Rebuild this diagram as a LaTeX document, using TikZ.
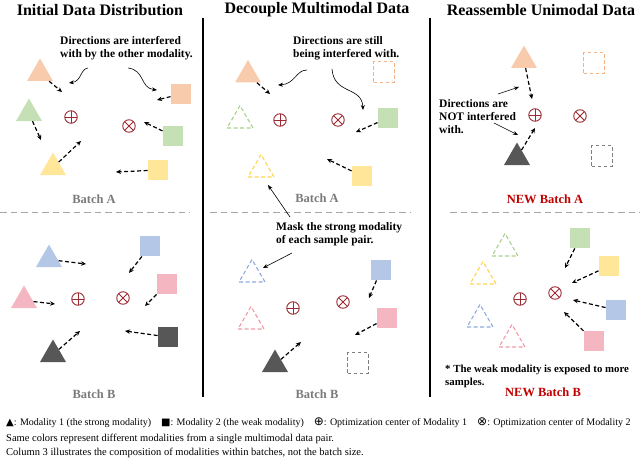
\documentclass[tikz,border=0pt]{standalone}
\usepackage{fontspec}
\setmainfont{Liberation Serif}
\newfontfamily\symfont{DejaVu Sans}
\usepackage{xcolor}
\usepackage{tikz}
\usetikzlibrary{shapes.geometric, arrows.meta}

\definecolor{corange}{HTML}{F8CBAD}
\definecolor{cgreen}{HTML}{C5E0B4}
\definecolor{cyellow}{HTML}{FFE699}
\definecolor{cblue}{HTML}{B4C7E7}
\definecolor{cpink}{HTML}{F4B6C0}
\definecolor{dorange}{HTML}{F4B183}
\definecolor{dgreen}{HTML}{A9D18E}
\definecolor{dyellow}{HTML}{FFD54F}
\definecolor{dblue}{HTML}{8FAADC}
\definecolor{dpink}{HTML}{EE9AA4}
\definecolor{dgray}{HTML}{7F7F7F}
\definecolor{cdark}{HTML}{575757}
\definecolor{cred}{HTML}{9C2A32}
\definecolor{cnew}{HTML}{C00000}
\definecolor{cbatch}{HTML}{7A7A7A}
\definecolor{cline}{HTML}{A6A6A6}

\begin{document}
\begin{tikzpicture}[x=1pt, y=-1pt,
    tri/.style={regular polygon, regular polygon sides=3, minimum size=30pt, inner sep=0pt},
    dtri/.style={tri, draw=#1, line width=1.1pt, dash pattern=on 4pt off 2.5pt},
    sq/.style={rectangle, minimum size=20.5pt, inner sep=0pt},
    dsq/.style={sq, draw=#1, line width=1.1pt, dash pattern=on 3.5pt off 2.5pt},
    ctr/.style={circle, draw=cred, line width=0.9pt, minimum size=12.5pt, inner sep=0pt},
    opl/.style={ctr, path picture={\draw[cred, line width=0.9pt]
        (path picture bounding box.center) ++(0,6.25pt) -- ++(0,-12.5pt)
        (path picture bounding box.center) ++(-6.25pt,0) -- ++(12.5pt,0);}},
    otm/.style={ctr, path picture={\draw[cred, line width=0.9pt]
        (path picture bounding box.center) ++(45:6.25pt) -- ++(225:12.5pt)
        (path picture bounding box.center) ++(135:6.25pt) -- ++(-45:12.5pt);}},
    dar/.style={-{Stealth[length=5pt, width=4.5pt]}, line width=1.2pt, dash pattern=on 4pt off 2.5pt},
    ann/.style={-{Stealth[length=5pt, width=4pt]}, line width=0.6pt},
    title/.style={font=\bfseries\fontsize{16}{18}\selectfont},
    note/.style={font=\bfseries\fontsize{11.5}{13}\selectfont, align=left, anchor=west, inner sep=0pt},
    batch/.style={font=\bfseries\fontsize{12.5}{14}\selectfont, text=cbatch},
    newbatch/.style={batch, text=cnew},
    legend/.style={anchor=west, inner sep=0pt, font=\fontsize{10.5}{12}\selectfont},
    sep/.style={cline, line width=1pt, dash pattern=on 6.5pt off 4pt}]
    \useasboundingbox (0,0) rectangle (640,460);

    % titles and frame
    \node[title] (h1) at (100,10) {Initial Data Distribution};
    \node[title] (h2) at (317,10) {Decouple Multimodal Data};
    \node[title] (h3) at (541,10) {Reassemble Unimodal Data};
    \draw[line width=1.5pt] (203,18) -- (203,397);
    \draw[line width=1.5pt] (430,18) -- (430,397);
    \draw[sep] (0,212) -- (190,212);
    \draw[sep] (210,212) -- (411,212);
    \draw[sep] (450,212) -- (640,212);

    % column 1, batch A
    \node[tri, fill=corange] (t1a) at (40,73.5) {};
    \node[tri, fill=cgreen] (t1b) at (29,113.5) {};
    \node[tri, fill=cyellow] (t1c) at (53,167.5) {};
    \node[sq, fill=corange] (s1a) at (181,94) {};
    \node[sq, fill=cgreen] (s1b) at (173,136) {};
    \node[sq, fill=cyellow] (s1c) at (158,170) {};
    \node[opl] (p1) at (71,117) {};
    \node[otm] (q1) at (129,126) {};
    \coordinate (e1a) at (62,92); \coordinate (e1b) at (41,140); \coordinate (e1c) at (81,141);
    \coordinate (f1a) at (157,100); \coordinate (f1b) at (144,122); \coordinate (f1c) at (116,172);
    \draw[dar] (t1a) -- (e1a);
    \draw[dar] (t1b) -- (e1b);
    \draw[dar] (t1c) -- (e1c);
    \draw[dar] (s1a) -- (f1a);
    \draw[dar] (s1b) -- (f1b);
    \draw[dar] (s1c) -- (f1c);
    \node[note] (n1) at (60,48.5) {Directions are interfered\\with by the other modality.};
    \coordinate (u1) at (88,68); \coordinate (v1) at (128,68);
    \draw[ann] (u1) .. controls (80,69) and (82,81) .. (69,83);
    \draw[ann] (v1) .. controls (145,70) and (140,88) .. (157,90);
    \node[batch] (b1a) at (94,199) {Batch A};

    % column 1, batch B
    \node[tri, fill=cblue] (t1d) at (49,259.5) {};
    \node[tri, fill=cpink] (t1e) at (24,300.5) {};
    \node[tri, fill=cdark] (t1f) at (53,354.5) {};
    \node[sq, fill=cblue] (s1d) at (150,246) {};
    \node[sq, fill=cpink] (s1e) at (167,284) {};
    \node[sq, fill=cdark] (s1f) at (168,337) {};
    \node[opl] (p2) at (78,299) {};
    \node[otm] (q2) at (123,298) {};
    \coordinate (e1d) at (86,264); \coordinate (e1e) at (55,304); \coordinate (e1f) at (80,331);
    \coordinate (f1d) at (129,273); \coordinate (f1e) at (145,306); \coordinate (f1f) at (125,331);
    \draw[dar] (t1d) -- (e1d);
    \draw[dar] (t1e) -- (e1e);
    \draw[dar] (t1f) -- (e1f);
    \draw[dar] (s1d) -- (f1d);
    \draw[dar] (s1e) -- (f1e);
    \draw[dar] (s1f) -- (f1f);
    \node[batch] (b1b) at (94,394) {Batch B};

    % column 2, batch A
    \node[tri, fill=corange] (t2a) at (248,75) {};
    \node[dtri=dgreen] (t2b) at (240,120.5) {};
    \node[dtri=dyellow] (t2c) at (261,169.5) {};
    \node[dsq=dorange] (s2a) at (384,72) {};
    \node[sq, fill=cgreen] (s2b) at (388,118) {};
    \node[sq, fill=cyellow] (s2c) at (362,176) {};
    \node[opl] (p3) at (280,120) {};
    \node[otm] (q3) at (338,120) {};
    \coordinate (e2a) at (270,94); \coordinate (f2b) at (356,132); \coordinate (f2c) at (327,159);
    \draw[dar] (t2a) -- (e2a);
    \draw[dar] (s2b) -- (f2b);
    \draw[dar] (s2c) -- (f2c);
    \node[note] (n2) at (293,48.5) {Directions are still\\being interfered with.};
    \coordinate (u2) at (307,70); \coordinate (v2) at (332,69);
    \draw[ann] (u2) .. controls (296,70) and (295,84) .. (278,85);
    \draw[ann] (v2) .. controls (334,95) and (362,86) .. (363,110);
    \node[batch] (b2a) at (317,198) {Batch A};

    % column 2, batch B
    \node[dtri=dblue] (t2d) at (252,274.5) {};
    \node[dtri=dpink] (t2e) at (251,321.5) {};
    \node[tri, fill=cdark] (t2f) at (275,364.5) {};
    \node[sq, fill=cblue] (s2d) at (381,270) {};
    \node[sq, fill=cpink] (s2e) at (387,318) {};
    \node[dsq=dgray] (s2f) at (358,363) {};
    \node[opl] (p4) at (293,308) {};
    \node[otm] (q4) at (343,302) {};
    \coordinate (e2f) at (301,342); \coordinate (f2d) at (369,298); \coordinate (f2e) at (355,335);
    \draw[dar] (t2f) -- (e2f);
    \draw[dar] (s2d) -- (f2d);
    \draw[dar] (s2e) -- (f2e);
    \node[note] (n3) at (276,234) {Mask the strong modality\\of each sample pair.};
    \coordinate (u3) at (290,217); \coordinate (v3) at (292,253);
    \draw[ann] (u3) -- (268,185);
    \draw[ann] (v3) -- (263,268);
    \node[batch] (b2b) at (317,394) {Batch B};

    % column 3, new batch A
    \node[tri, fill=corange] (t3a) at (524,60.5) {};
    \node[tri, fill=cdark] (t3b) at (517,157.5) {};
    \node[dsq=dorange] (s3a) at (594,63) {};
    \node[dsq=dgray] (s3b) at (602,156) {};
    \node[opl] (p5) at (535,115) {};
    \node[otm] (q5) at (580,116) {};
    \coordinate (e3a) at (532,99); \coordinate (e3b) at (535,128);
    \draw[dar] (t3a) -- (e3a);
    \draw[dar] (t3b) -- (e3b);
    \node[note] (n4) at (439,117) {Directions are\\NOT interfered\\with.};
    \coordinate (u4) at (498,94); \coordinate (v4) at (494,123);
    \draw[ann] (u4) -- (519,87);
    \draw[ann] (v4) -- (518,135);
    \node[newbatch] (b3a) at (545,199) {NEW Batch A};

    % column 3, new batch B
    \node[dtri=dgreen] (t3c) at (505,248.5) {};
    \node[dtri=dyellow] (t3d) at (483,276.5) {};
    \node[dtri=dblue] (t3e) at (480,319.5) {};
    \node[dtri=dpink] (t3f) at (512,339.5) {};
    \node[sq, fill=cgreen] (s3c) at (580,238) {};
    \node[sq, fill=cyellow] (s3d) at (609,266) {};
    \node[sq, fill=cblue] (s3e) at (616,310) {};
    \node[sq, fill=cpink] (s3f) at (594,341) {};
    \node[opl] (p6) at (520,299) {};
    \node[otm] (q6) at (555,293) {};
    \coordinate (f3c) at (565,268); \coordinate (f3d) at (572,283);
    \coordinate (f3e) at (573,300); \coordinate (f3f) at (564,312);
    \draw[dar] (s3c) -- (f3c);
    \draw[dar] (s3d) -- (f3d);
    \draw[dar] (s3e) -- (f3e);
    \draw[dar] (s3f) -- (f3f);
    \node[note, font=\bfseries\fontsize{10.8}{13}\selectfont] (n5) at (445,376) {* The weak modality is exposed to more\\samples.};
    \node[newbatch] (b3b) at (543,392) {NEW Batch B};

    % legend
    \node[legend, font=\fontsize{10}{12}\selectfont] (lg1) at (6,423)
        {{\symfont\fontsize{10}{12}\selectfont ▲}: Modality 1 (the strong modality)\quad {\symfont\fontsize{10}{12}\selectfont ■}: Modality 2 (the weak modality)\quad {\symfont\fontsize{12}{12}\selectfont ⊕}: Optimization center of Modality 1\quad {\symfont\fontsize{12}{12}\selectfont ⊗}: Optimization center of Modality 2};
    \node[legend] (lg2) at (6,439)
        {Same colors represent different modalities from a single multimodal data pair.};
    \node[legend] (lg3) at (6,453)
        {Column 3 illustrates the composition of modalities within batches, not the batch size.};
\end{tikzpicture}
\end{document}
